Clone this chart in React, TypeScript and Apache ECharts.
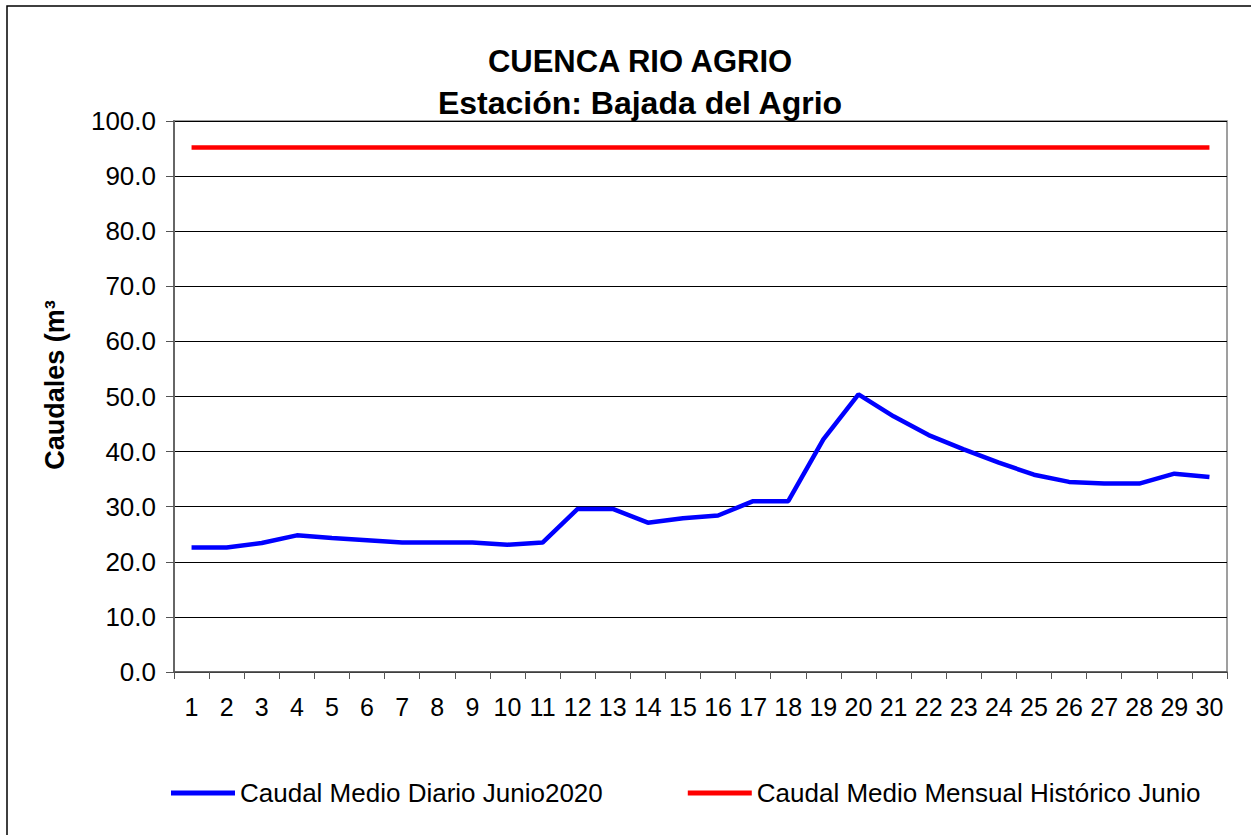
import React, { useEffect, useRef } from "react";
import * as echarts from "echarts";

const titleLine1 = "CUENCA RIO AGRIO";
const titleLine2 = "Estación: Bajada del Agrio";
const yAxisName = "Caudales (m³";
const days = Array.from({ length: 30 }, (_, i) => String(i + 1));
const dailyName = "Caudal Medio Diario Junio2020";
const dailyValues = [
  22.6, 22.6, 23.4, 24.8, 24.3, 23.9, 23.5, 23.5, 23.5, 23.1,
  23.5, 29.6, 29.6, 27.1, 27.9, 28.4, 31.0, 31.0, 42.2, 50.4,
  46.4, 43.0, 40.4, 38.0, 35.8, 34.5, 34.2, 34.2, 36.0, 35.4,
];
const historicName = "Caudal Medio Mensual Histórico Junio";
const historicValue = 95.2;
const historicValues = days.map(() => historicValue);

const FONT = "'Liberation Sans', Arial, sans-serif";

export default function App() {
  const ref = useRef<HTMLDivElement>(null);
  useEffect(() => {
    if (!ref.current) return;
    const chart = echarts.init(ref.current, null, { renderer: "svg" });
    chart.setOption({
      animation: false,
      backgroundColor: "#ffffff",
      textStyle: { fontFamily: FONT },
      graphic: [
        {
          type: "rect",
          shape: { x: 7, y: 6, width: 1300, height: 900 },
          style: { fill: "none", stroke: "#000", lineWidth: 1.5 },
          silent: true,
        },
        {
          type: "text",
          x: 640,
          y: 61,
          style: {
            text: titleLine1,
            font: `bold 31px ${FONT}`,
            fill: "#000",
            align: "center",
            verticalAlign: "middle",
          },
        },
        {
          type: "text",
          x: 640,
          y: 103,
          style: {
            text: titleLine2,
            font: `bold 32px ${FONT}`,
            fill: "#000",
            align: "center",
            verticalAlign: "middle",
          },
        },
        {
          type: "text",
          x: 55,
          y: 385,
          rotation: Math.PI / 2,
          style: {
            text: yAxisName,
            font: `bold 27px ${FONT}`,
            fill: "#000",
            align: "center",
            verticalAlign: "middle",
          },
        },
      ],
      grid: {
        left: 174,
        right: 24,
        top: 121,
        bottom: 163,
        show: true,
        borderColor: "#808080",
        borderWidth: 1.5,
      },
      legend: {
        left: 166,
        top: 775,
        icon: "rect",
        itemWidth: 64,
        itemHeight: 5,
        itemGap: 85,
        textStyle: { fontSize: 26, color: "#000", fontFamily: FONT },
        data: [dailyName, historicName],
      },
      xAxis: {
        type: "category",
        data: days,
        boundaryGap: true,
        axisLine: { lineStyle: { color: "#555", width: 1.5 } },
        axisTick: { show: true, length: 7, inside: false, lineStyle: { color: "#555" } },
        axisLabel: { interval: 0, fontSize: 25, color: "#000", margin: 22, fontFamily: FONT },
        splitLine: { show: false },
      },
      yAxis: {
        type: "value",
        min: 0,
        max: 100,
        interval: 10,
        axisLine: { show: true, lineStyle: { color: "#666", width: 2 } },
        axisTick: { show: true, length: 8, lineStyle: { color: "#555" } },
        axisLabel: {
          fontSize: 26,
          color: "#000",
          margin: 18,
          fontFamily: FONT,
          formatter: (v: number) => v.toFixed(1),
        },
        splitLine: { show: true, lineStyle: { color: "#000", width: 1 } },
      },
      series: [
        {
          name: dailyName,
          type: "line",
          data: dailyValues,
          symbol: "none",
          lineStyle: { color: "#0000ff", width: 4.5 },
          itemStyle: { color: "#0000ff" },
        },
        {
          name: historicName,
          type: "line",
          data: historicValues,
          symbol: "none",
          lineStyle: { color: "#ff0000", width: 4.5 },
          itemStyle: { color: "#ff0000" },
        },
      ],
    });
    return () => chart.dispose();
  }, []);
  return (
    <div
      ref={ref}
      style={{ position: "absolute", left: 0, top: 0, width: 1251, height: 835 }}
    />
  );
}
